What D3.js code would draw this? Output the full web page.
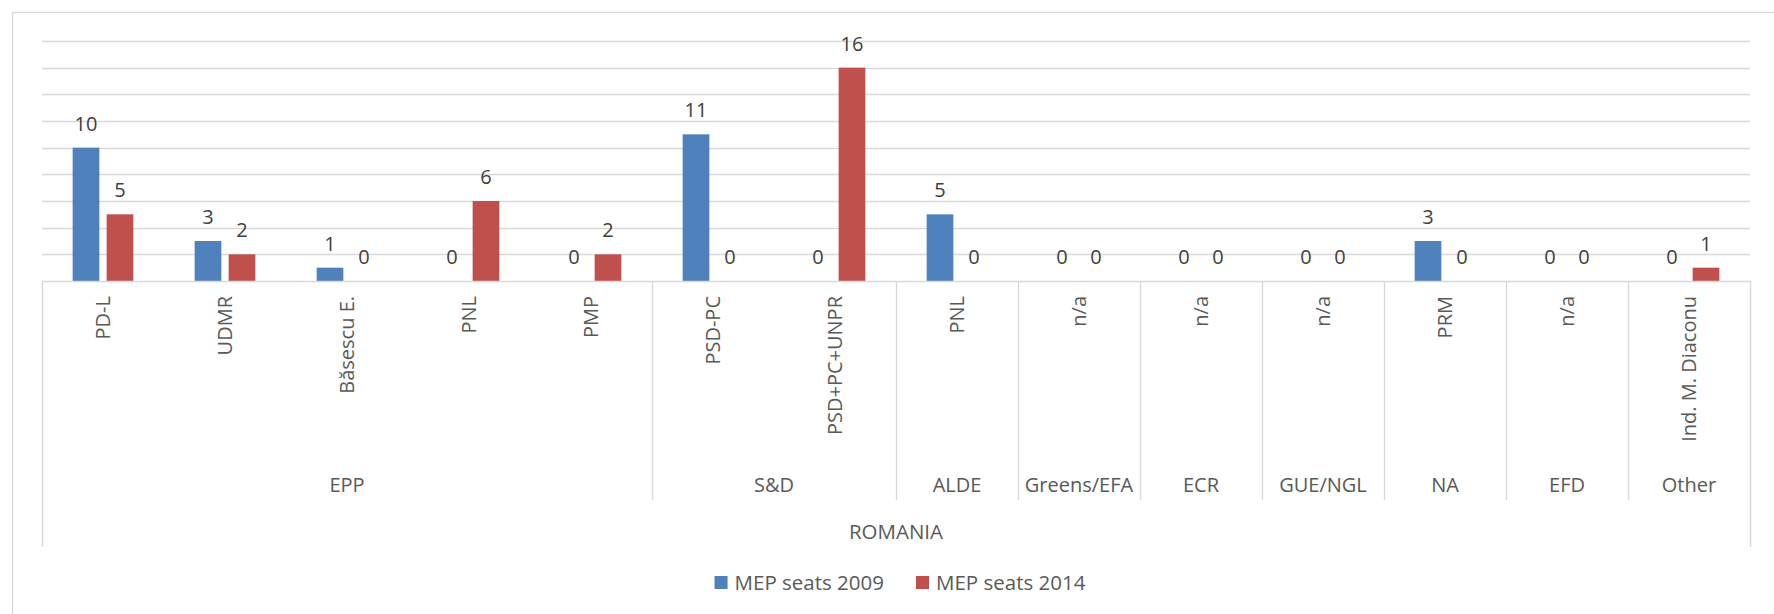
<!DOCTYPE html>
<html>
<head>
<meta charset="utf-8">
<script src="https://cdn.jsdelivr.net/npm/d3@7"></script>
<style>
  html, body { margin: 0; padding: 0; background: #fff; }
  svg { display: block; font-family: "Open Sans", "DejaVu Sans", sans-serif; }
</style>
</head>
<body>
<svg id="chart" width="1774" height="614"></svg>
<script>
// ---- data ----
const parties = ["PD-L", "UDMR", "Băsescu E.", "PNL", "PMP", "PSD-PC", "PSD+PC+UNPR", "PNL", "n/a", "n/a", "n/a", "PRM", "n/a", "Ind. M. Diaconu"];
const groupNames = ["EPP", "S&D", "ALDE", "Greens/EFA", "ECR", "GUE/NGL", "NA", "EFD", "Other"];
const groupSizes = [5, 2, 1, 1, 1, 1, 1, 1, 1];
const country = "ROMANIA";
const seriesNames = ["MEP seats 2009", "MEP seats 2014"];
const seats2009 = [10, 3, 1, 0, 0, 11, 0, 5, 0, 0, 0, 3, 0, 0];
const seats2014 = [5, 2, 0, 6, 2, 0, 16, 0, 0, 0, 0, 0, 0, 1];
const gridTicks = [2, 4, 6, 8, 10, 12, 14, 16, 18];

const colors = ["#4f81bd", "#c0504d"];
const seriesValues = [seats2009, seats2014];

const svg = d3.select("#chart");

// outer chart border (left + top visible)
svg.append("rect")
  .attr("x", 12.5).attr("y", 12.5)
  .attr("width", 1800).attr("height", 700)
  .attr("fill", "none").attr("stroke", "#d9d9d9").attr("stroke-width", 1.3);

const x0 = 42, x1 = 1750, yBase = 281, yTop = 41;

const x = d3.scaleBand().domain(d3.range(parties.length)).range([x0, x1]).padding(0);
const xs = d3.scaleBand().domain([0, 1]).range([0, x.bandwidth()])
  .paddingInner(0.2147).paddingOuter(0.9015);
const y = d3.scaleLinear().domain([0, 18]).range([yBase, yTop]);

// gridlines
svg.append("g").selectAll("line").data(gridTicks).join("line")
  .attr("x1", x0).attr("x2", x1)
  .attr("y1", d => Math.round(y(d)) + 0.5).attr("y2", d => Math.round(y(d)) + 0.5)
  .attr("stroke", "#d9d9d9").attr("stroke-width", 1.4);

// bars
const data = [];
parties.forEach((p, i) => {
  seriesValues.forEach((vals, s) => data.push({ i, s, v: vals[i] }));
});

svg.append("g").selectAll("rect").data(data.filter(d => d.v > 0)).join("rect")
  .attr("x", d => x(d.i) + xs(d.s))
  .attr("width", xs.bandwidth())
  .attr("y", d => y(d.v))
  .attr("height", d => y(0) - y(d.v))
  .attr("fill", d => colors[d.s]);

// value labels
svg.append("g").selectAll("text").data(data).join("text")
  .attr("x", d => x(d.i) + xs(d.s) + xs.bandwidth() / 2)
  .attr("y", d => y(d.v) - 17)
  .attr("text-anchor", "middle")
  .attr("font-size", 20)
  .attr("fill", "#404040")
  .text(d => d.v);

// category axis line
svg.append("line")
  .attr("x1", x0).attr("x2", x1).attr("y1", yBase + 0.5).attr("y2", yBase + 0.5)
  .attr("stroke", "#d9d9d9").attr("stroke-width", 1.4);

// party labels (rotated)
svg.append("g").selectAll("text").data(parties).join("text")
  .attr("transform", (d, i) => `translate(${x(i) + x.bandwidth() / 2},296) rotate(-90)`)
  .attr("text-anchor", "end")
  .attr("dy", "0.35em")
  .attr("font-size", 20)
  .attr("fill", "#595959")
  .text(d => d);

// group separators and labels
let start = 0;
const groups = groupNames.map((g, k) => {
  const o = { name: g, start, end: start + groupSizes[k] };
  start += groupSizes[k];
  return o;
});
const boundaries = d3.range(1, groups.length).map(k => groups[k].start);
svg.append("g").selectAll("line").data(boundaries).join("line")
  .attr("x1", d => Math.round(x(d)) + 0.5).attr("x2", d => Math.round(x(d)) + 0.5)
  .attr("y1", yBase).attr("y2", 500)
  .attr("stroke", "#d9d9d9").attr("stroke-width", 1.4);
// outer edges
svg.append("g").selectAll("line").data([x0, x1]).join("line")
  .attr("x1", d => d + 0.5).attr("x2", d => d + 0.5)
  .attr("y1", yBase).attr("y2", 547)
  .attr("stroke", "#d9d9d9").attr("stroke-width", 1.4);

svg.append("g").selectAll("text").data(groups).join("text")
  .attr("x", d => (x(d.start) + x(d.end - 1) + x.bandwidth()) / 2)
  .attr("y", 492)
  .attr("text-anchor", "middle")
  .attr("font-size", 20)
  .attr("fill", "#595959")
  .text(d => d.name);

svg.append("text")
  .attr("x", (x0 + x1) / 2).attr("y", 539)
  .attr("text-anchor", "middle")
  .attr("font-size", 20.5)
  .attr("fill", "#595959")
  .text(country);

// legend
const leg = svg.append("g");
const items = seriesNames.map((name, s) => {
  const g = leg.append("g");
  g.append("rect").attr("width", 13).attr("height", 13).attr("y", 576).attr("fill", colors[s]);
  const t = g.append("text").attr("x", 20).attr("y", 590).attr("font-size", 20.5)
    .attr("fill", "#595959").text(name);
  return { g, w: 20 + t.node().getComputedTextLength() };
});
const gapL = 32;
const totalW = d3.sum(items, d => d.w) + gapL * (items.length - 1);
let lx = 900 - totalW / 2;
items.forEach(it => { it.g.attr("transform", `translate(${lx},0)`); lx += it.w + gapL; });
</script>
</body>
</html>
